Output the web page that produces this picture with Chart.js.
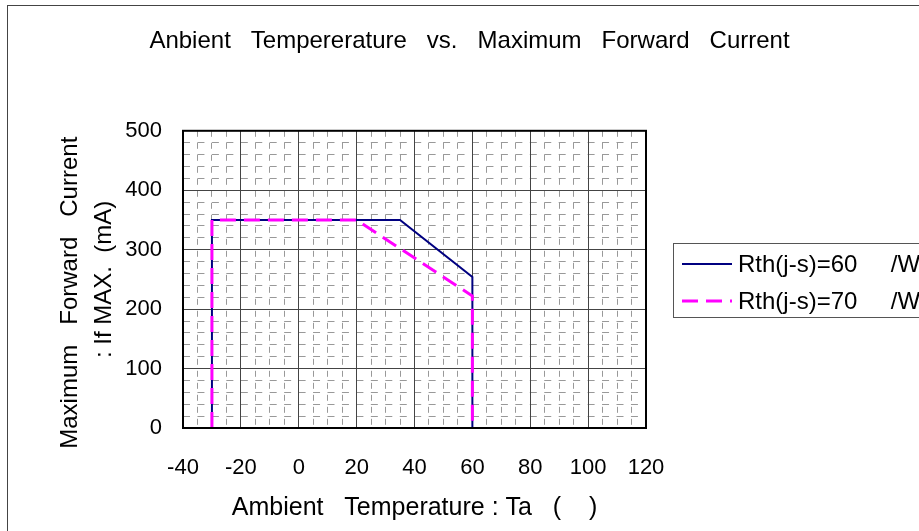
<!DOCTYPE html>
<html>
<head>
<meta charset="utf-8">
<script src="https://cdn.jsdelivr.net/npm/chart.js@4.4.1/dist/chart.umd.min.js"></script>
<style>
  html, body { margin: 0; padding: 0; background: #fff; overflow: hidden; }
  #wrap { width: 919px; height: 531px; }
</style>
</head>
<body>
<div id="wrap"><canvas id="deratingChart" width="919" height="531"></canvas></div>
<script>
// Rth(j-s)=60 curve
const tempA = [-30, -30, 35, 60, 60];
const currentA = [0, 350, 350, 254, 0];
// Rth(j-s)=70 curve
const tempB = [-30, -30, 20, 60, 60];
const currentB = [0, 350, 350, 222, 0];

const xTicks = [-40, -20, 0, 20, 40, 60, 80, 100, 120];
const yTicks = [0, 100, 200, 300, 400, 500];

const labelA = 'Rth(j-s)=60     /W';
const labelB = 'Rth(j-s)=70     /W';

const FONT = "'Liberation Sans', Arial, sans-serif";

function toPoints(xs, ys) {
    return xs.map((x, i) => ({ x: x, y: ys[i] }));
}

// legend box + frames, drawn by hand because the legend sits half outside the picture
const boxLegend = {
    id: 'boxLegend',
    afterDraw(chart) {
        const ctx = chart.ctx;
        ctx.save();
        // outer frame of the whole picture
        ctx.strokeStyle = '#444';
        ctx.lineWidth = 1;
        ctx.strokeRect(7.5, 5.5, 1000, 1000);

        // frame of the plot area
        const a = chart.chartArea;
        ctx.strokeStyle = '#000';
        ctx.lineWidth = 2;
        ctx.strokeRect(a.left, a.top, a.right - a.left, a.bottom - a.top);

        ctx.fillStyle = '#fff';
        ctx.fillRect(673, 243, 300, 74);
        ctx.strokeStyle = '#555';
        ctx.lineWidth = 1;
        ctx.strokeRect(673.5, 243.5, 300, 74);
        ctx.beginPath();
        ctx.moveTo(673, 317.5);
        ctx.lineTo(919, 317.5);
        ctx.stroke();

        const rows = [264, 301];
        chart.data.datasets.forEach((ds, i) => {
            const y = rows[i];
            ctx.strokeStyle = ds.borderColor;
            ctx.lineWidth = ds.borderWidth;
            ctx.setLineDash(ds.borderDash || []);
            ctx.beginPath();
            ctx.moveTo(682, y);
            ctx.lineTo(732, y);
            ctx.stroke();
            ctx.setLineDash([]);
            ctx.fillStyle = '#000';
            ctx.font = '24px ' + FONT;
            ctx.textBaseline = 'middle';
            ctx.fillText(ds.label, 738, y + 1);
        });
        ctx.restore();
    }
};

const ctx = document.getElementById('deratingChart').getContext('2d');
const chart = new Chart(ctx, {
    type: 'line',
    data: {
        datasets: [
            {
                label: labelA,
                data: toPoints(tempA, currentA),
                borderColor: '#000080',
                borderWidth: 2,
                pointRadius: 0,
                fill: false,
                tension: 0,
                order: 1,
                xAxisID: 'x',
                yAxisID: 'y'
            },
            {
                label: labelB,
                data: toPoints(tempB, currentB),
                borderColor: '#ff00ff',
                borderWidth: 3,
                borderDash: [16, 8],
                pointRadius: 0,
                fill: false,
                tension: 0,
                order: 0,
                xAxisID: 'x',
                yAxisID: 'y'
            }
        ]
    },
    options: {
        responsive: false,
        animation: false,
        layout: { padding: { left: 20, right: 0, top: 0, bottom: 0 } },
        plugins: {
            legend: { display: false },
            tooltip: { enabled: false },
            title: {
                display: true,
                text: 'Anbient   Tempererature   vs.   Maximum   Forward   Current',
                color: '#000',
                font: { family: FONT, size: 24, weight: 'normal' },
                padding: { top: 27, bottom: 75 }
            }
        },
        scales: {
            xMinor: {
                type: 'linear',
                position: 'bottom',
                min: -40,
                max: 120,
                ticks: { display: false, stepSize: 5 },
                grid: { color: '#999', lineWidth: 1, drawTicks: false },
                border: { display: false, dash: [6, 6] },
                afterFit: s => { s.height = 0; }
            },
            yMinor: {
                type: 'linear',
                position: 'left',
                min: 0,
                max: 500,
                ticks: { display: false, stepSize: 20 },
                grid: { color: '#999', lineWidth: 1, drawTicks: false },
                border: { display: false, dash: [7, 7.45] },
                afterFit: s => { s.width = 0; }
            },
            x: {
                type: 'linear',
                position: 'bottom',
                min: -40,
                max: 120,
                afterBuildTicks: s => { s.ticks = xTicks.map(v => ({ value: v })); },
                ticks: {
                    color: '#000',
                    padding: 27,
                    font: { family: FONT, size: 22 }
                },
                grid: { color: '#444', lineWidth: 1, drawTicks: false },
                border: { display: true, color: '#000', width: 2 },
                title: {
                    display: true,
                    text: 'Ambient   Temperature : Ta   (    )',
                    color: '#000',
                    font: { family: FONT, size: 25 },
                    padding: { top: 0, bottom: 8 }
                },
                afterFit: s => { s.height = 103; }
            },
            y: {
                type: 'linear',
                position: 'left',
                min: 0,
                max: 500,
                afterBuildTicks: s => { s.ticks = yTicks.map(v => ({ value: v })); },
                ticks: {
                    color: '#000',
                    padding: 21,
                    font: { family: FONT, size: 22 }
                },
                grid: { color: '#444', lineWidth: 1, drawTicks: false },
                border: { display: true, color: '#000', width: 2 },
                title: {
                    display: true,
                    text: ['Maximum   Forward   Current    ', ': If MAX.  (mA)'],
                    color: '#000',
                    font: { family: FONT, size: 24, lineHeight: 1.42 },
                    padding: { top: 33, bottom: 0 }
                },
                afterFit: s => { s.width = 163; }
            },
            // empty room on the right where the legend sits
            yRight: {
                type: 'linear',
                position: 'right',
                min: 0,
                max: 500,
                ticks: { display: false },
                grid: { display: false },
                border: { display: false },
                afterFit: s => { s.width = 273; }
            }
        }
    },
    plugins: [boxLegend]
});
</script>
</body>
</html>
